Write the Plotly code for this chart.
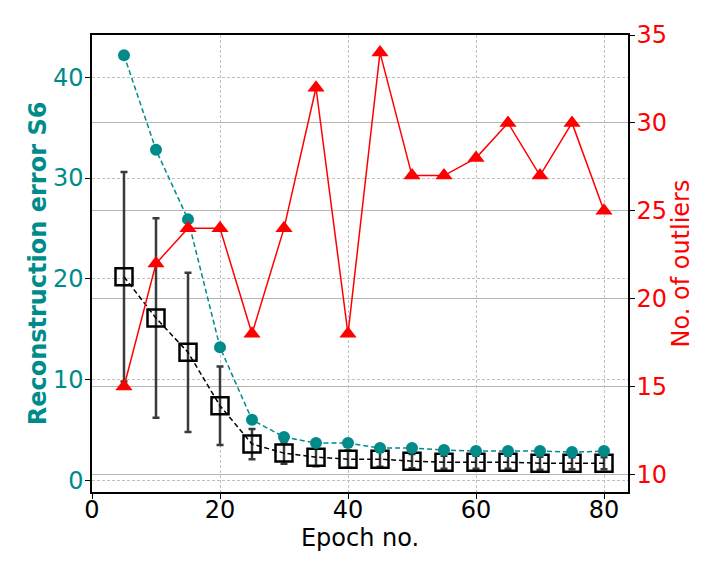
import plotly.graph_objects as go

TEAL = "#008b8b"
RED = "#ff0000"
FONT = "DejaVu Sans"

epochs = [5, 10, 15, 20, 25, 30, 35, 40, 45, 50, 55, 60, 65, 70, 75, 80]
recon_s6 = [42.2, 32.8, 25.9, 13.2, 6.0, 4.3, 3.7, 3.7, 3.2, 3.2, 3.0, 2.9, 2.9, 2.9, 2.8, 2.9]
recon_mean = [20.2, 16.1, 12.7, 7.4, 3.6, 2.7, 2.3, 2.1, 2.1, 1.9, 1.8, 1.8, 1.8, 1.7, 1.7, 1.7]
recon_std = [10.4, 9.9, 7.9, 3.9, 1.5, 1.05, 0.9, 0.85, 0.75, 0.7, 0.65, 0.65, 0.65, 0.65, 0.6, 0.6]
outliers = [15, 22, 24, 24, 18, 24, 32, 18, 34, 27, 27, 28, 30, 27, 30, 25]

fig = go.Figure()

# mean error of all samples with std
fig.add_trace(go.Scatter(
    x=epochs, y=recon_mean, mode="lines+markers",
    line=dict(color="black", dash="5px,3px", width=1.5),
    marker=dict(symbol="square-open", size=17, color="black", line=dict(width=2.5)),
    error_y=dict(type="data", array=recon_std, color="#3a3a3a", thickness=2.5, width=3.5),
    showlegend=False,
))

# S6 error
fig.add_trace(go.Scatter(
    x=epochs, y=recon_s6, mode="lines+markers",
    line=dict(color=TEAL, dash="5px,3px", width=1.5),
    marker=dict(symbol="circle", size=12, color=TEAL),
    showlegend=False,
))

# outliers on the right axis
fig.add_trace(go.Scatter(
    x=epochs, y=outliers, mode="lines+markers", yaxis="y2",
    line=dict(color=RED, width=1.5),
    marker=dict(symbol="triangle-up", size=15, color=RED),
    showlegend=False,
))

grid_dash = "3px,2px"
fig.update_layout(
    width=720, height=576,
    margin=dict(l=92, r=92, t=35, b=84),
    paper_bgcolor="white", plot_bgcolor="white",
    font=dict(family=FONT, size=24, color="black"),
    xaxis=dict(
        range=[0, 83.75], tickvals=[0, 20, 40, 60, 80],
        title=dict(text="Epoch no.", font=dict(size=24), standoff=2),
        ticklabelstandoff=-10,
        showline=True, linecolor="black", linewidth=1.5, mirror=True,
        ticks="outside", ticklen=5, tickcolor="black",
        showgrid=True, gridcolor="#c0c0c0", griddash=grid_dash, gridwidth=1,
        zeroline=False,
    ),
    yaxis=dict(
        range=[-1.16, 44.2], tickvals=[0, 10, 20, 30, 40],
        title=dict(text="<b>Reconstruction error S6</b>", font=dict(size=24, color=TEAL), standoff=0),
        tickfont=dict(color=TEAL, size=24),
        ticklabelstandoff=-3,
        showline=True, linecolor="black", linewidth=1.5,
        ticks="outside", ticklen=5, tickcolor="black",
        showgrid=True, gridcolor="#c0c0c0", griddash=grid_dash, gridwidth=1,
        zeroline=False,
    ),
    yaxis2=dict(
        range=[9.0, 35.0], tickvals=[10, 15, 20, 25, 30, 35],
        overlaying="y", side="right",
        title=dict(text="No. of outliers", font=dict(size=24, color=RED), standoff=2),
        tickfont=dict(color=RED, size=24),
        ticklabelstandoff=-3,
        showline=True, linecolor="black", linewidth=1.5,
        ticks="outside", ticklen=5, tickcolor="black",
        showgrid=True, gridcolor="#b5b5b5", gridwidth=1.2,
        zeroline=False,
    ),
)

fig.write_html(
    "out.html",
    config={"displayModeBar": False},
    post_script="document.body.style.margin = '0';",
)
